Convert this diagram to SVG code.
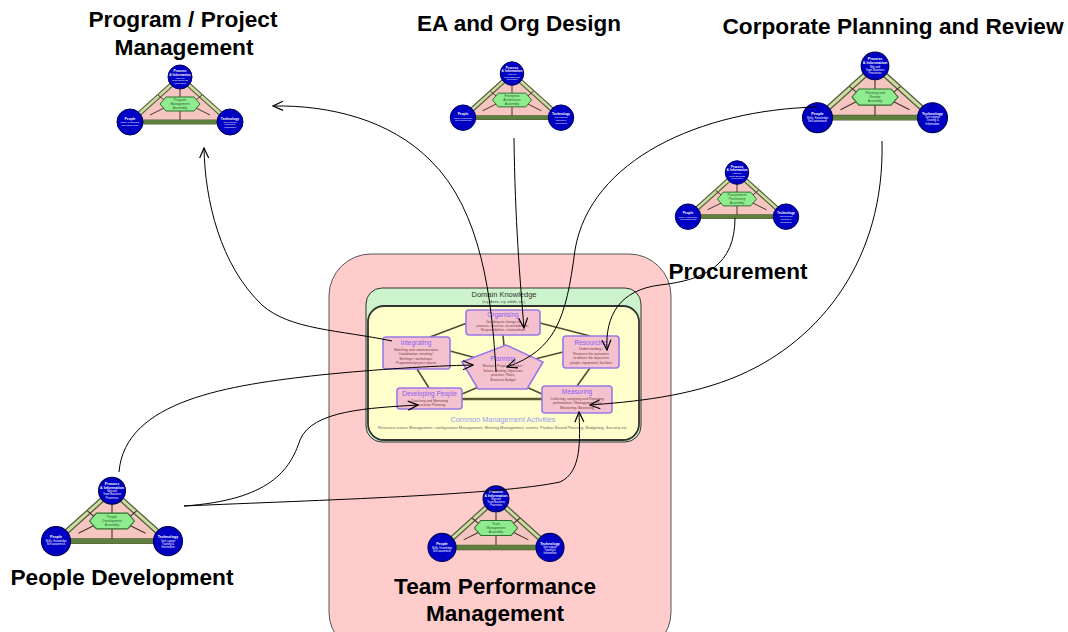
<svg xmlns="http://www.w3.org/2000/svg" xmlns:xlink="http://www.w3.org/1999/xlink" width="1068" height="632" viewBox="0 0 1068 632">
<style>
.title{font-family:"Liberation Sans",Arial,sans-serif;font-weight:bold;font-size:22px;fill:#000;text-anchor:middle}
.ntitle{font-family:"Liberation Sans",Arial,sans-serif;font-size:6.5px;fill:#8a5cf0;text-anchor:middle}
.ndesc{font-family:"Liberation Sans",Arial,sans-serif;font-size:3.4px;fill:#7a3a3a;text-anchor:middle}
.node{fill:#f4c2cf;stroke:#9a78e8;stroke-width:1.6}
.link{stroke:#4d4d33;stroke-width:1.6;fill:none}
.conn{stroke:#000;stroke-width:1;fill:none}
.ctext{font-family:"Liberation Sans",Arial,sans-serif;fill:#fff;text-anchor:middle;font-size:2.4px}
.ctb{font-weight:bold;font-size:3.3px}
.htext{font-family:"Liberation Sans",Arial,sans-serif;fill:#2d5a2d;text-anchor:middle;font-size:3.3px}
.circ{fill:#0000c4;stroke:#00005a;stroke-width:1}
.spoke{stroke:#4a2e2e;stroke-width:1}
</style>
<defs>
<marker id="arr" markerUnits="userSpaceOnUse" markerWidth="12" markerHeight="12" viewBox="0 0 12 12" refX="11" refY="6" orient="auto">
<path d="M1,1.5 L11,6 L1,10.5" fill="none" stroke="#000" stroke-width="1.2"/>
</marker>
<g id="tri">
<polygon points="0,-27 -50,18 50,18" fill="#f5c6c0" stroke="#55633c" stroke-width="5" stroke-linejoin="round"/>
<polygon points="0,-27 -50,18 50,18" fill="none" stroke="#cfdca6" stroke-width="2.6" stroke-linejoin="round"/>
<line x1="-46" y1="18" x2="46" y2="18" stroke="#5f7f3f" stroke-width="4"/>
<line class="spoke" x1="0" y1="-7" x2="0" y2="-16"/>
<line class="spoke" x1="0" y1="7" x2="0" y2="16"/>
<line class="spoke" x1="-16" y1="-4" x2="-22" y2="-9"/>
<line class="spoke" x1="16" y1="-4" x2="22" y2="-9"/>
<line class="spoke" x1="-16" y1="4" x2="-30" y2="11"/>
<line class="spoke" x1="16" y1="4" x2="30" y2="11"/>
<polygon points="-20,0 -14,-7 14,-7 20,0 14,7 -14,7" fill="#8eec8e" stroke="#2e6e2e" stroke-width="1"/>
<circle class="circ" cx="0" cy="-27" r="12"/>
<circle class="circ" cx="-50" cy="18" r="13"/>
<circle class="circ" cx="50" cy="18" r="13"/>
<text class="ctext ctb" x="0" y="-32">Process</text>
<text class="ctext ctb" x="0" y="-28.5">&amp; Information</text>
<text class="ctext" x="0" y="-25.5">Mgt and</text>
<text class="ctext" x="0" y="-22.8">Team Business</text>
<text class="ctext" x="0" y="-20.1">Processes</text>
<text class="ctext ctb" x="-50" y="15.5">People</text>
<text class="ctext" x="-50" y="19">Skills, Knowledge</text>
<text class="ctext" x="-50" y="21.8">Self-awareness</text>
<text class="ctext ctb" x="50" y="15.5">Technology</text>
<text class="ctext" x="50" y="18.6">Tool support</text>
<text class="ctext" x="50" y="21.3">Training &amp;</text>
<text class="ctext" x="50" y="24">Information</text>
</g>
</defs>
<rect width="1068" height="632" fill="#fff"/>

<g id="team-box">
<rect x="329" y="254" width="342" height="400" rx="42" fill="#ffcccc" stroke="#555" stroke-width="1"/>
<text class="title" x="495" y="594" textLength="202" lengthAdjust="spacingAndGlyphs">Team Performance</text>
<text class="title" x="495" y="621" textLength="138" lengthAdjust="spacingAndGlyphs">Management</text>
</g>

<g id="domain">
<rect x="366" y="288" width="275" height="154" rx="16" fill="#ccf3cc" stroke="#333" stroke-width="1"/>
<text x="504" y="297" font-family="Liberation Sans, Arial, sans-serif" font-size="7.5" fill="#333" text-anchor="middle">Domain Knowledge</text>
<text x="504" y="303" font-family="Liberation Sans, Arial, sans-serif" font-size="3.4" fill="#444" text-anchor="middle">(e.g. Acme, e.g. wibble, etc.)</text>
<rect x="368" y="306" width="271" height="134" rx="16" fill="#ffffcc" stroke="#333" stroke-width="1.8"/>
<text x="503" y="422" font-family="Liberation Sans, Arial, sans-serif" font-size="7.2" fill="#9a9aee" text-anchor="middle" textLength="105" lengthAdjust="spacingAndGlyphs">Common Management Activities</text>
<text x="503" y="429" font-family="Liberation Sans, Arial, sans-serif" font-size="3.2" fill="#666" text-anchor="middle" textLength="250" lengthAdjust="spacingAndGlyphs">Resource issues Management, configuration Management, Meeting Management, events, Product Based Planning, Budgeting, Security etc.</text>
</g>

<g id="links">
<line class="link" x1="467" y1="323" x2="430" y2="337"/>
<line class="link" x1="540" y1="323" x2="590" y2="336"/>
<line class="link" x1="503" y1="335" x2="504" y2="346"/>
<line class="link" x1="450" y1="351" x2="476" y2="358"/>
<line class="link" x1="417" y1="369" x2="429" y2="388"/>
<line class="link" x1="563" y1="352" x2="535" y2="359"/>
<line class="link" x1="590" y1="368" x2="577" y2="386"/>
<line class="link" x1="481" y1="386" x2="462" y2="394"/>
<line class="link" x1="524" y1="386" x2="542" y2="394"/>
<line x1="462" y1="399" x2="542" y2="399" stroke="#5a5a30" stroke-width="2.6"/>
</g>

<g id="organising">
<rect class="node" x="466" y="310" width="74" height="25" rx="3"/>
<text class="ntitle" x="503" y="317">Organising</text>
<text class="ndesc" x="503" y="322.5">Deciding on change to</text>
<text class="ndesc" x="503" y="326.8">process, structure, accountabilities,</text>
<text class="ndesc" x="503" y="331.1">Responsibilities, relationships</text>
</g>
<g id="integrating">
<rect class="node" x="383" y="337" width="67" height="32" rx="3"/>
<text class="ntitle" x="416" y="345">Integrating</text>
<text class="ndesc" x="416" y="350.5">Matching and communication</text>
<text class="ndesc" x="416" y="355">Coordination, meeting /</text>
<text class="ndesc" x="416" y="359.5">Briefings / workshops,</text>
<text class="ndesc" x="416" y="364">Programme/project reports</text>
</g>
<g id="resourcing">
<rect class="node" x="563" y="336" width="56" height="32" rx="3"/>
<text class="ntitle" x="591" y="345">Resourcing</text>
<text class="ndesc" x="591" y="350">Understanding /</text>
<text class="ndesc" x="591" y="354.5">Resource the outcomes</text>
<text class="ndesc" x="591" y="359">to deliver the objectives</text>
<text class="ndesc" x="591" y="363.5">people, equipment, facilities</text>
</g>
<g id="planning">
<polygon class="node" points="506,345 543,362 527,389 478,389 462,362"/>
<text class="ntitle" x="503" y="361">Planning</text>
<text class="ndesc" x="503" y="367">Mission / Purpose / Vision /</text>
<text class="ndesc" x="503" y="371.5">Values, Setting Objectives</text>
<text class="ndesc" x="503" y="376">priorities, Plans,</text>
<text class="ndesc" x="503" y="380.5">Business Budget</text>
</g>
<g id="developing-people">
<rect class="node" x="397" y="388" width="65" height="21" rx="3"/>
<text class="ntitle" x="429.5" y="396">Developing People</text>
<text class="ndesc" x="429.5" y="401.5">Coaching and Mentoring</text>
<text class="ndesc" x="429.5" y="406">Succession Planning</text>
</g>
<g id="measuring">
<rect class="node" x="542" y="386" width="70" height="27" rx="3"/>
<text class="ntitle" x="577" y="394">Measuring</text>
<text class="ndesc" x="577" y="399.5">Collecting, analysing and Reporting</text>
<text class="ndesc" x="577" y="404">performance / Management info</text>
<text class="ndesc" x="577" y="408.5">Measuring / Assessing</text>
</g>

<g id="program-project">
<text class="title" x="183" y="27" textLength="189" lengthAdjust="spacingAndGlyphs">Program / Project</text>
<text class="title" x="184" y="55" textLength="139" lengthAdjust="spacingAndGlyphs">Management</text>
<use xlink:href="#tri" transform="translate(180,104)"/>
<text class="htext" x="180" y="101">Program</text>
<text class="htext" x="180" y="105">Management</text>
<text class="htext" x="180" y="109">Assembly</text>
</g>
<g id="ea-org">
<text class="title" x="519" y="31" textLength="204" lengthAdjust="spacingAndGlyphs">EA and Org Design</text>
<use xlink:href="#tri" transform="translate(512,100) scale(0.98)"/>
<text class="htext" x="512" y="97">Enterprise</text>
<text class="htext" x="512" y="101">Architecture</text>
<text class="htext" x="512" y="105">Assembly</text>
</g>
<g id="corporate">
<text class="title" x="893" y="34" textLength="341" lengthAdjust="spacingAndGlyphs">Corporate Planning and Review</text>
<use xlink:href="#tri" transform="translate(875,97) scale(1.15)"/>
<text class="htext" x="875" y="94">Planning and</text>
<text class="htext" x="875" y="98">Review</text>
<text class="htext" x="875" y="102">Assembly</text>
</g>
<g id="procurement">
<text class="title" x="738" y="279" textLength="139" lengthAdjust="spacingAndGlyphs">Procurement</text>
<use xlink:href="#tri" transform="translate(737,199) scale(0.98)"/>
<text class="htext" x="737" y="196">Procurement</text>
<text class="htext" x="737" y="200">Purchasing</text>
<text class="htext" x="737" y="204">Assembly</text>
</g>
<g id="people-development">
<text class="title" x="122" y="585" textLength="223" lengthAdjust="spacingAndGlyphs">People Development</text>
<use xlink:href="#tri" transform="translate(112,521) scale(1.12)"/>
<text class="htext" x="112" y="518">People</text>
<text class="htext" x="112" y="522">Development</text>
<text class="htext" x="112" y="526">Assembly</text>
</g>
<g id="team-triangle">
<use xlink:href="#tri" transform="translate(496,528) scale(1.08)"/>
<text class="htext" x="496" y="525">Team</text>
<text class="htext" x="496" y="529">Management</text>
<text class="htext" x="496" y="533">Assembly</text>
</g>

<g id="connectors">
<path class="conn" d="M392,341 C340,330 290,330 262,305 C220,265 205,200 204,148" marker-end="url(#arr)"/>
<path class="conn" d="M496,372 C492,300 482,210 430,160 C390,120 330,105 273,106" marker-end="url(#arr)"/>
<path class="conn" d="M514,138 C515,220 520,280 524,328" marker-end="url(#arr)"/>
<path class="conn" d="M817,107 C700,110 590,160 575,250 C566,320 555,350 507,367" marker-end="url(#arr)"/>
<path class="conn" d="M882,141 C885,260 820,340 740,375 C690,397 630,402 590,405" marker-end="url(#arr)"/>
<path class="conn" d="M735,218 C735,265 705,280 660,285 C620,290 605,315 607,350" marker-end="url(#arr)"/>
<path class="conn" d="M119,472 C125,400 230,385 320,375 C380,369 430,366 473,365" marker-end="url(#arr)"/>
<path class="conn" d="M184,506 C270,500 290,470 300,440 C312,410 370,408 418,405" marker-end="url(#arr)"/>
<path class="conn" d="M184,506 C320,500 500,495 560,482 C582,472 580,440 579,412" marker-end="url(#arr)"/>
</g>
</svg>
